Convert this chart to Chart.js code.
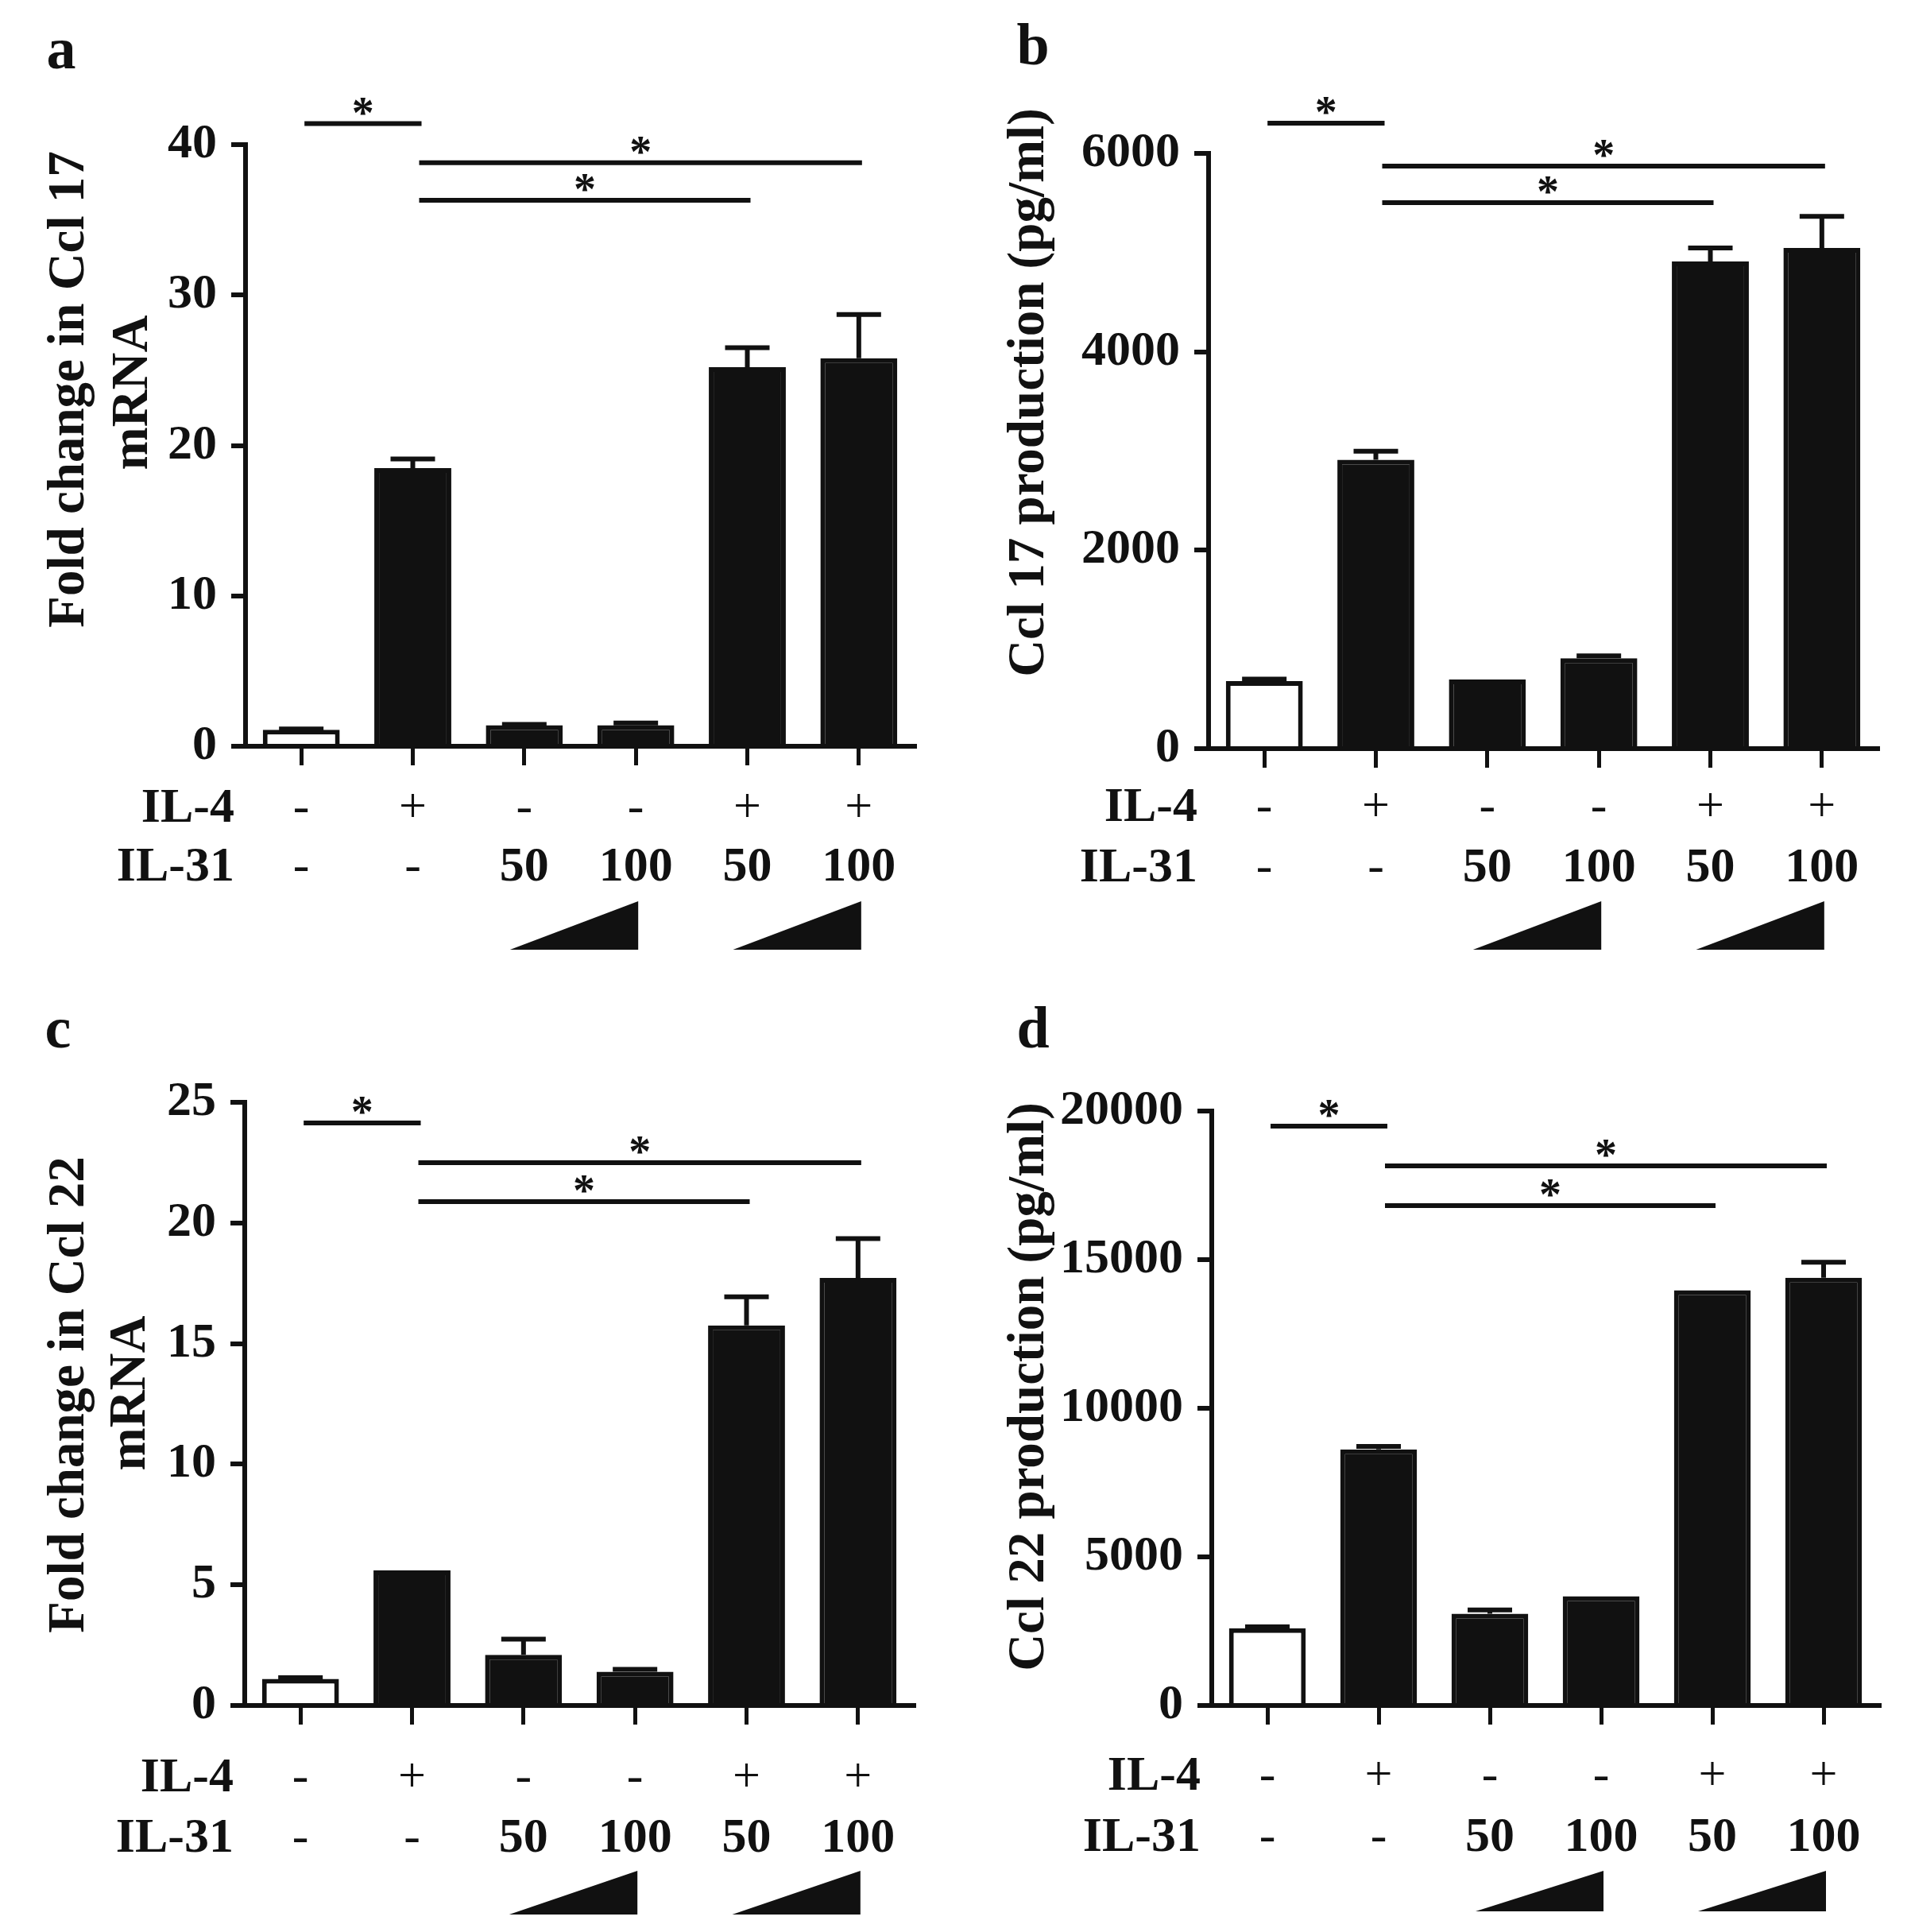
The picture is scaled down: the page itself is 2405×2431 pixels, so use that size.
<!DOCTYPE html>
<html>
<head>
<meta charset="utf-8">
<script src="https://cdn.jsdelivr.net/npm/chart.js@4.4.0/dist/chart.umd.min.js"></script>
<style>
html,body{margin:0;padding:0;background:#ffffff;}
#wrap{position:relative;width:2405px;height:2431px;background:#ffffff;overflow:hidden;}
canvas{position:absolute;left:0;top:0;}
</style>
</head>
<body>
<div id="wrap">
<canvas id="pa"></canvas>
<canvas id="pb"></canvas>
<canvas id="pc"></canvas>
<canvas id="pd"></canvas>
</div>
<script>
// ---------- data ----------
const categories = ['1', '2', '3', '4', '5', '6'];
const il4Row = ['-', '+', '-', '-', '+', '+'];
const il31Row = ['-', '-', '50', '100', '50', '100'];

// a: Fold change in Ccl17 mRNA
const ccl17mRNA = [1.1, 18.5, 1.4, 1.4, 25.2, 25.8];
const ccl17mRNAErr = [0.05, 0.6, 0.05, 0.15, 1.3, 2.9];
const ccl17mRNATicks = [0, 10, 20, 30, 40];
const ccl17mRNASig = [[0, 1, 41.4], [1, 5, 38.8], [1, 4, 36.3]];

// b: Ccl17 production (pg/ml)
const ccl17Prod = [680, 2911, 697, 911, 4911, 5046];
const ccl17ProdErr = [20, 86, 0, 24, 135, 320];
const ccl17ProdTicks = [0, 2000, 4000, 6000];
const ccl17ProdSig = [[0, 1, 6305], [1, 5, 5872], [1, 4, 5503]];

// c: Fold change in Ccl22 mRNA
const ccl22mRNA = [1.1, 5.6, 2.1, 1.4, 15.75, 17.72];
const ccl22mRNAErr = [0.05, 0, 0.65, 0.1, 1.19, 1.63];
const ccl22mRNATicks = [0, 5, 10, 15, 20, 25];
const ccl22mRNASig = [[0, 1, 24.14], [1, 5, 22.5], [1, 4, 20.88]];

// d: Ccl22 production (pg/ml)
const ccl22Prod = [2600, 8613, 3088, 3676, 13970, 14390];
const ccl22ProdErr = [50, 105, 126, 0, 0, 526];
const ccl22ProdTicks = [0, 5000, 10000, 15000, 20000];
const ccl22ProdSig = [[0, 1, 19490], [1, 5, 18155], [1, 4, 16818]];

// ---------- drawing ----------
const SERIF = '"Liberation Serif", "Times New Roman", serif';
const INK = '#111111';
const PAGE_W = 2405, PAGE_H = 2431;
Chart.defaults.font.family = SERIF;
Chart.defaults.color = INK;

function makePanel(id, cfg) {
  const canvas = document.getElementById(id);
  canvas.width = PAGE_W; canvas.height = PAGE_H;
  canvas.style.width = PAGE_W + 'px'; canvas.style.height = PAGE_H + 'px';
  const AXW = 260, AXH = 30;

  const extras = {
    id: 'extras_' + id,
    afterDatasetsDraw(chart) {
      const ctx = chart.ctx, xs = chart.scales.x, ys = chart.scales.y;
      ctx.save();
      ctx.strokeStyle = INK; ctx.lineWidth = 6; ctx.lineCap = 'butt';
      cfg.values.forEach((v, i) => {
        const e = cfg.err[i];
        if (!(e > 0)) return;
        const x = xs.getPixelForValue(i);
        const yb = ys.getPixelForValue(v);
        const yt = ys.getPixelForValue(v + e);
        ctx.beginPath();
        ctx.moveTo(x, yb); ctx.lineTo(x, yt);
        ctx.moveTo(x - 28, yt); ctx.lineTo(x + 28, yt);
        ctx.stroke();
      });
      ctx.restore();
    },
    afterDraw(chart) {
      const ctx = chart.ctx, xs = chart.scales.x, ys = chart.scales.y, ca = chart.chartArea;
      ctx.save();
      ctx.fillStyle = INK; ctx.strokeStyle = INK;
      // panel letter
      ctx.font = 'bold 74px ' + SERIF;
      ctx.textAlign = 'center'; ctx.textBaseline = 'alphabetic';
      ctx.fillText(cfg.letter, cfg.letterX, cfg.letterY);
      // y titles
      ctx.font = 'bold 65px ' + SERIF;
      cfg.titles.forEach(t => {
        ctx.save();
        ctx.translate(t[1], t[2]);
        ctx.rotate(-Math.PI / 2);
        ctx.textAlign = 'center'; ctx.textBaseline = 'middle';
        ctx.fillText(t[0], 0, 0);
        ctx.restore();
      });
      // condition rows
      const rows = [['IL-4', il4Row, cfg.row1], ['IL-31', il31Row, cfg.row2]];
      rows.forEach(r => {
        const base = ca.bottom + r[2] + 20;
        ctx.textBaseline = 'alphabetic';
        ctx.textAlign = 'right';
        ctx.font = 'bold 62px ' + SERIF;
        ctx.fillText(r[0], ca.left - 14, base);
        ctx.textAlign = 'center';
        r[1].forEach((s, i) => {
          const sym = (s === '-' || s === '+');
          ctx.font = (sym ? 'normal ' : 'bold ') + '62px ' + SERIF;
          ctx.fillText(s, xs.getPixelForValue(i), base);
        });
      });
      // dose triangles
      [[2, 3], [4, 5]].forEach(p => {
        const xl = xs.getPixelForValue(p[0]) - 18;
        const xr = xs.getPixelForValue(p[1]) + 3;
        const yt = ca.bottom + cfg.triTop, yb = ca.bottom + cfg.triBot;
        ctx.beginPath();
        ctx.moveTo(xl, yb); ctx.lineTo(xr, yt); ctx.lineTo(xr, yb); ctx.closePath();
        ctx.fill();
      });
      // significance lines
      ctx.lineWidth = 6;
      ctx.font = 'bold 56px ' + SERIF;
      ctx.textAlign = 'center'; ctx.textBaseline = 'alphabetic';
      const m = ctx.measureText('*');
      cfg.sig.forEach((s, k) => {
        const x1 = xs.getPixelForValue(s[0]) + (k === 0 ? 4 : 8);
        const x2 = xs.getPixelForValue(s[1]) + (k === 0 ? 11 : 4);
        const y = ys.getPixelForValue(s[2]);
        ctx.beginPath(); ctx.moveTo(x1, y); ctx.lineTo(x2, y); ctx.stroke();
        const cy = y - 22;
        ctx.fillText('*', (x1 + x2) / 2, cy + (m.actualBoundingBoxAscent - m.actualBoundingBoxDescent) / 2);
      });
      ctx.restore();
    }
  };

  return new Chart(canvas, {
    type: 'bar',
    data: {
      labels: categories,
      datasets: [{
        data: cfg.values,
        backgroundColor: cfg.values.map((v, i) => i === 0 ? '#ffffff' : INK),
        borderColor: INK,
        borderWidth: 6,
        borderSkipped: 'start',
        barPercentage: 0.69,
        categoryPercentage: 1
      }]
    },
    options: {
      responsive: false,
      animation: false,
      devicePixelRatio: 1,
      layout: { padding: { left: cfg.area.l - AXW, right: PAGE_W - cfg.area.r, top: cfg.area.t, bottom: PAGE_H - cfg.area.b - AXH } },
      plugins: { legend: { display: false }, tooltip: { enabled: false } },
      scales: {
        x: {
          z: 1,
          offset: true,
          grid: { display: true, drawOnChartArea: false, drawTicks: true, tickLength: 24, lineWidth: 5, color: INK, offset: false },
          border: { display: true, width: 6, color: INK },
          ticks: { display: false },
          afterFit(s) { s.height = AXH; }
        },
        y: {
          z: 1,
          min: cfg.ticks[0],
          max: cfg.ticks[cfg.ticks.length - 1],
          afterBuildTicks(s) { s.ticks = cfg.ticks.map(v => ({ value: v })); },
          ticks: { font: { family: SERIF, weight: 'bold', size: 62 }, color: INK, padding: 18, autoSkip: false, callback: v => String(v) },
          grid: { display: true, drawOnChartArea: false, drawTicks: true, tickLength: 18, lineWidth: 6, color: INK },
          border: { display: true, width: 6, color: INK },
          afterFit(s) { s.width = AXW; }
        }
      }
    },
    plugins: [extras]
  });
}

makePanel('pa', {
  area: { l: 309, r: 1151, t: 182, b: 939 },
  values: ccl17mRNA, err: ccl17mRNAErr, ticks: ccl17mRNATicks, sig: ccl17mRNASig,
  letter: 'a', letterX: 77, letterY: 86,
  titles: [['Fold change in Ccl 17', 88, 490], ['mRNA', 168, 494]],
  row1: 75, row2: 149, triTop: 195, triBot: 256
});
makePanel('pb', {
  area: { l: 1521, r: 2363, t: 193, b: 942 },
  values: ccl17Prod, err: ccl17ProdErr, ticks: ccl17ProdTicks, sig: ccl17ProdSig,
  letter: 'b', letterX: 1300, letterY: 81,
  titles: [['Ccl 17 production (pg/ml)', 1296, 494]],
  row1: 71, row2: 147, triTop: 192, triBot: 253
});
makePanel('pc', {
  area: { l: 308, r: 1150, t: 1387, b: 2146 },
  values: ccl22mRNA, err: ccl22mRNAErr, ticks: ccl22mRNATicks, sig: ccl22mRNASig,
  letter: 'c', letterX: 73, letterY: 1318,
  titles: [['Fold change in Ccl 22', 88, 1755], ['mRNA', 165, 1753]],
  row1: 88, row2: 164, triTop: 208, triBot: 263
});
makePanel('pd', {
  area: { l: 1525, r: 2365, t: 1398, b: 2146 },
  values: ccl22Prod, err: ccl22ProdErr, ticks: ccl22ProdTicks, sig: ccl22ProdSig,
  letter: 'd', letterX: 1300, letterY: 1318,
  titles: [['Ccl 22 production (pg/ml)', 1296, 1745]],
  row1: 86, row2: 163, triTop: 208, triBot: 259
});
</script>
</body>
</html>
